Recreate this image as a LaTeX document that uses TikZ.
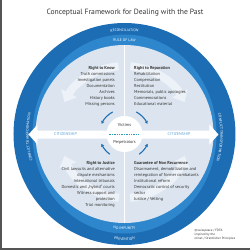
\documentclass[tikz,border=0pt]{standalone}
\usepackage{fontspec}
\setmainfont{PT Sans}
\usetikzlibrary{arrows.meta,decorations.text}
\definecolor{ringdark}{HTML}{1C6DB4}
\definecolor{ringmid}{HTML}{2E87CD}
\definecolor{disk}{HTML}{DCE5EF}
\definecolor{arrowpale}{HTML}{EDF2F8}
\definecolor{txt}{HTML}{333333}
\definecolor{citi}{HTML}{5A9FD6}
\definecolor{framegray}{HTML}{555555}
\definecolor{arcblue}{HTML}{1F6FB5}
\definecolor{dashteal}{HTML}{2A9DB5}
\newcommand{\ringfnt}{\fontsize{3.7}{4}\selectfont}
\begin{document}
\begin{tikzpicture}[x=1pt,y=1pt,
  qtext/.style={inner sep=0pt, text=txt, font=\fontsize{4.3}{5}\selectfont},
  qhead/.style={inner sep=0pt, text=txt, font=\fontsize{4.3}{5}\selectfont\bfseries},
  ctext/.style={inner sep=0pt, text=txt, font=\fontsize{3.2}{4}\selectfont},
  citext/.style={inner sep=0pt, text=citi, font=\fontsize{4.1}{5}\selectfont},
  ringtext/.style={decorate, decoration={text along path, text align=center, text color=white, text={|\ringfnt|#1}}},
  bigarrow/.style={draw=arrowpale, line width=8pt, -{Triangle[width=17pt,length=10pt]}},
  smallarc/.style={draw=arcblue, line width=1.1pt, -{Stealth[length=3pt,width=3.4pt]}}
]
\useasboundingbox (-124.5,-116) rectangle (125.5,134);
% frame lines
\fill[framegray] (-124.5,-116) rectangle (-122.8,134);
\fill[framegray] (-124.5,-116) rectangle (125.5,-114.3);
% title
\node[inner sep=0pt, text=txt, font=\fontsize{7.6}{9}\selectfont] (title) at (0.5,121) {Conceptual Framework for Dealing with the Past};
% rings
\fill[ringdark] (0,0) circle (111);
\fill[ringmid] (0,0) ellipse (92 and 99.5);
\fill[disk] (0,0) circle (89);
% big pale arrows
\draw[bigarrow] (95:68) arc (95:152:68);
\draw[bigarrow] (85:68) arc (85:28:68);
\draw[bigarrow] (265:64) arc (265:200:64);
\draw[bigarrow] (275:64) arc (275:340:64);
% vertical divider
\draw[white, line width=1.2pt] (0,89) -- (0,-89);
% horizontal band with arrow ends
\fill[white] (-96,-0.5) -- (-87,9.5) -- (-87,3.5) -- (85,3.5) -- (85,9.5) -- (94,-0.5)
  -- (85,-10.5) -- (85,-4.5) -- (-87,-4.5) -- (-87,-10.5) -- cycle;
% ring texts
\path[ringtext=RECONCILIATION] (120:102.8) arc (120:60:102.8);
\path[ringtext=RULE OF LAW] (120:92.8) arc (120:60:92.8);
\path[ringtext=NO IMPUNITY] (240:95.6) arc (240:300:95.6);
\path[ringtext=PREVENTION] (240:106.2) arc (240:300:106.2);
\path[ringtext=CONFLICT TRANSFORMATION] (212:95.8) arc (212:152:95.8);
\path[ringtext=CONFLICT TRANSFORMATION] (28:95.8) arc (28:-32:95.8);
% citizenship
\node[citext, anchor=east] (citL) at (-47.5,0) {CITIZENSHIP};
\node[citext, anchor=west] (citR) at (43,0) {CITIZENSHIP};
% centre circle
\fill[white] (0,0) circle (18);
\node[qtext] (victims) at (0,9) {Victims};
\node[qtext] (perps) at (0,-8.7) {Perpetrators};
\draw[dashteal, line width=0.5pt, dash pattern=on 1.4pt off 1pt] (-15,0) -- (15,0);
\draw[smallarc] (118:25) arc (118:156:25);
\draw[smallarc] (62:25) arc (62:24:25);
\draw[smallarc] (234:25) arc (234:203:25);
\draw[smallarc] (306:25) arc (306:337:25);
% quadrant texts
\node[qhead, anchor=base east] (knowH) at (-9.5,64.9) {Right to Know};
\foreach \t [count=\i] in {Truth commissions,Investigation panels,Documentation,Archives,History books,Missing persons}
  \node[qtext, anchor=base east] (know\i) at (-9.5,{64.9-\i*6.05}) {\t};
\node[qhead, anchor=base west] (repH) at (9.5,64.9) {Right to Reparation};
\foreach \t [count=\i] in {Rehabilitation,Compensation,Restitution,{Memorials, public apologies},Commemorations,Educational material}
  \node[qtext, anchor=base west] (rep\i) at (9.5,{64.9-\i*6.05}) {\t};
\node[qhead, anchor=base east] (jusH) at (-9.5,-30.7) {Right to Justice};
\foreach \t [count=\i] in {Civil lawsuits and alternative,dispute mechanisms,International tribunals,Domestic and „hybrid“ courts,Witness support and,protection,Trial monitoring}
  \node[qtext, anchor=base east] (jus\i) at (-9.5,{-30.7-\i*5.96}) {\t};
\node[qhead, anchor=base west] (guaH) at (9.5,-30.7) {Guarantee of Non Recurrence};
\foreach \t [count=\i] in {{Disarmament, demobilization and},reintegration of former combatants,Institutional reform,Democratic control of security,sector,Justice / Vetting}
  \node[qtext, anchor=base west] (gua\i) at (9.5,{-30.7-\i*5.96}) {\t};
% credit
\foreach \t [count=\i] in {©swisspeace / FDFA,inspired by the,Joinet / Orentlicher Principles}
  \node[ctext, anchor=base west] (cred\i) at (70,{-97.3-(\i-1)*4.3}) {\t};
\end{tikzpicture}
\end{document}
